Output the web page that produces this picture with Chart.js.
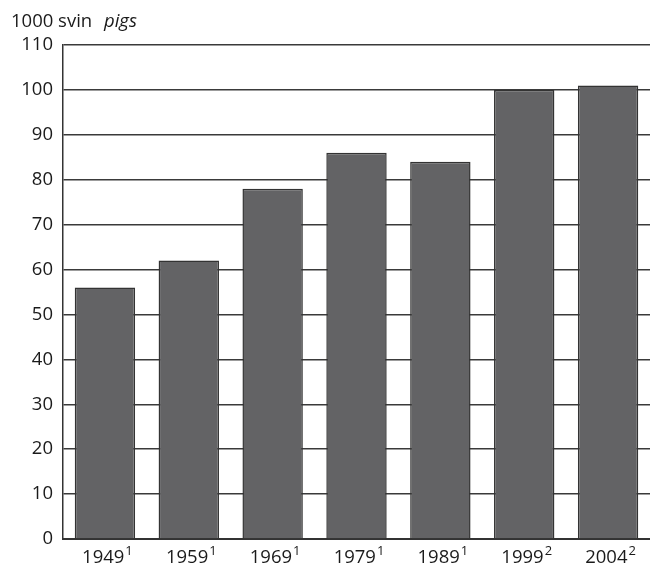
<!DOCTYPE html>
<html>
<head>
<meta charset="utf-8">
<script src="https://cdn.jsdelivr.net/npm/chart.js@4.4.1/dist/chart.umd.min.js"></script>
<style>
    html, body { margin: 0; padding: 0; background: #fff; }
    #wrap { position: relative; width: 650px; height: 569px; }
    #titulo {
        position: absolute; left: 11px; top: 11px;
        font-family: "Open Sans", sans-serif; font-size: 18.5px; color: #1a1a1a;
        line-height: 1;
    }
    #titulo i { margin-left: 7px; }
</style>
</head>
<body>
<div id="wrap">
    <canvas id="grafico" width="650" height="569"></canvas>
    <div id="titulo">1000 svin <i>pigs</i></div>
</div>
<script>
// Datos del gráfico
const categorias = ['1949', '1959', '1969', '1979', '1989', '1999', '2004'];
const notas = ['1', '1', '1', '1', '1', '2', '2'];
const valores = [56, 62, 78, 86, 84, 100, 101];
const ticksY = [0, 10, 20, 30, 40, 50, 60, 70, 80, 90, 100, 110];

const familia = '"Open Sans", sans-serif';
const fuente = { family: familia, size: 18.5 };

// Etiquetas del eje X con nota en superíndice
const etiquetasX = {
    id: 'etiquetasX',
    afterDraw(chart) {
        const ctx = chart.ctx;
        const ejeX = chart.scales.x;
        ctx.save();
        ctx.fillStyle = '#1a1a1a';
        ctx.textBaseline = 'alphabetic';
        categorias.forEach((cat, i) => {
            const x = ejeX.getPixelForValue(i);
            ctx.font = `18.5px ${familia}`;
            const anchoCat = ctx.measureText(cat).width;
            ctx.font = `13px ${familia}`;
            const anchoNota = ctx.measureText(notas[i]).width;
            const inicio = x - (anchoCat + anchoNota) / 2 + 2;
            ctx.font = `18.5px ${familia}`;
            ctx.textAlign = 'left';
            ctx.fillText(cat, inicio, 563);
            ctx.font = `13px ${familia}`;
            ctx.fillText(notas[i], inicio + anchoCat + 1, 555);
        });
        ctx.restore();
    }
};

new Chart(document.getElementById('grafico'), {
    type: 'bar',
    data: {
        labels: categorias,
        datasets: [{
            data: valores,
            backgroundColor: '#636365',
            borderColor: '#333',
            borderWidth: 1.5,
            categoryPercentage: 0.72,
            barPercentage: 1
        }]
    },
    options: {
        responsive: false,
        animation: false,
        layout: { padding: { top: 45, right: 0, left: 0, bottom: 0 } },
        plugins: { legend: { display: false }, tooltip: { enabled: false } },
        scales: {
            x: {
                grid: { display: false },
                border: { display: true, color: '#333', width: 2 },
                ticks: { display: false },
                afterFit: (eje) => { eje.height = 30; }
            },
            y: {
                min: 0,
                max: 110,
                afterBuildTicks: (eje) => { eje.ticks = ticksY.map(v => ({ value: v })); },
                grid: { color: '#3a3a3a', lineWidth: 1.5, drawTicks: false },
                border: { display: true, color: '#333', width: 1.5 },
                ticks: { color: '#1a1a1a', font: fuente, padding: 10 },
                afterFit: (eje) => { eje.width = 63; }
            }
        }
    },
    plugins: [etiquetasX]
});
</script>
</body>
</html>
